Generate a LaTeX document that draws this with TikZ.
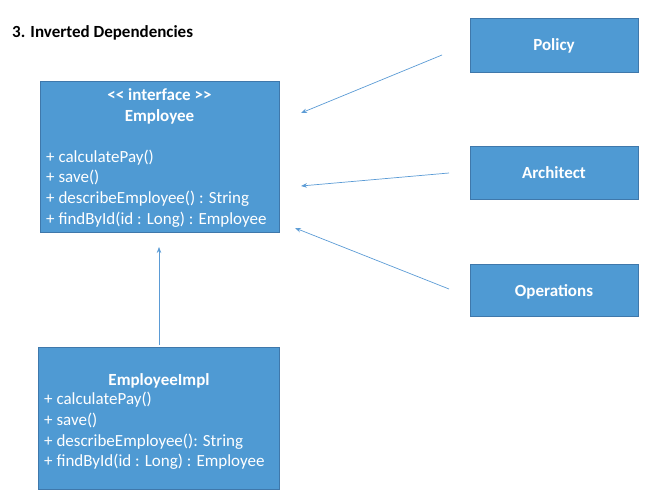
\documentclass[tikz,border=0pt]{standalone}
\usepackage{fontspec}
\setmainfont{Carlito}
\usetikzlibrary{arrows.meta}
\definecolor{boxfill}{HTML}{4F9AD3}
\definecolor{boxline}{HTML}{3F78AB}
\definecolor{arrowblue}{HTML}{5B9BD5}
\tikzset{
  umlbox/.style={draw=boxline, fill=boxfill, line width=0.8pt, inner sep=0pt},
  boxtxt/.style={text=white, font=\fontsize{17}{20}\selectfont, inner sep=0pt},
  boldtxt/.style={boxtxt, font=\fontsize{17}{20}\selectfont\bfseries},
  dep/.style={draw=arrowblue, line width=0.7pt, -{Stealth[length=6pt,width=4.5pt]}}
}
\begin{document}
\begin{tikzpicture}[x=1pt,y=-1pt]
\useasboundingbox (0,0) rectangle (656,497);
% title
\node[anchor=base west, inner sep=0pt, font=\fontsize{17}{20}\selectfont\bfseries] (title) at (12,38) {3. Inverted Dependencies};
% Employee interface
\node[umlbox, minimum width=239pt, minimum height=151pt] (emp) at (159.5,156.5) {};
\node[boldtxt, anchor=base] (stereo) at (159.5,101) {<{}< interface >{}>};
\node[boldtxt, anchor=base] (empname) at (159.5,122) {Employee};
\node[boxtxt, anchor=base west] (e1) at (46,163) {+ calculatePay()};
\node[boxtxt, anchor=base west] (e2) at (46,183) {+ save()};
\node[boxtxt, anchor=base west] (e3) at (46,204) {+ describeEmployee() : String};
\node[boxtxt, anchor=base west] (e4) at (46,225) {+ findById(id : Long) : Employee};
% EmployeeImpl
\node[umlbox, minimum width=241pt, minimum height=142pt] (impl) at (159,418) {};
\node[boldtxt, anchor=base] (implname) at (159,385) {EmployeeImpl};
\node[boxtxt, anchor=base west] (i1) at (44,404) {+ calculatePay()};
\node[boxtxt, anchor=base west] (i2) at (44,425) {+ save()};
\node[boxtxt, anchor=base west] (i3) at (44,446) {+ describeEmployee(): String};
\node[boxtxt, anchor=base west] (i4) at (44,466) {+ findById(id : Long) : Employee};
% right boxes
\node[umlbox, minimum width=168pt, minimum height=54pt] (policy) at (554,45) {};
\node[boldtxt, anchor=base] (policyt) at (554,51) {Policy};
\node[umlbox, minimum width=168pt, minimum height=53pt] (arch) at (554,172.5) {};
\node[boldtxt, anchor=base] (archt) at (554,178.5) {Architect};
\node[umlbox, minimum width=168pt, minimum height=52pt] (ops) at (554,290) {};
\node[boldtxt, anchor=base] (opst) at (554,296) {Operations};
% connector end points
\coordinate (pS) at (442,55);  \coordinate (pE) at (301,113);
\coordinate (aS) at (449,173); \coordinate (aE) at (301,186);
\coordinate (oS) at (449,289); \coordinate (oE) at (295,228);
\coordinate (iS) at (159,345); \coordinate (iE) at (159,247);
\draw[dep] (pS) -- (pE);
\draw[dep] (aS) -- (aE);
\draw[dep] (oS) -- (oE);
\draw[dep] (iS) -- (iE);
\end{tikzpicture}
\end{document}
